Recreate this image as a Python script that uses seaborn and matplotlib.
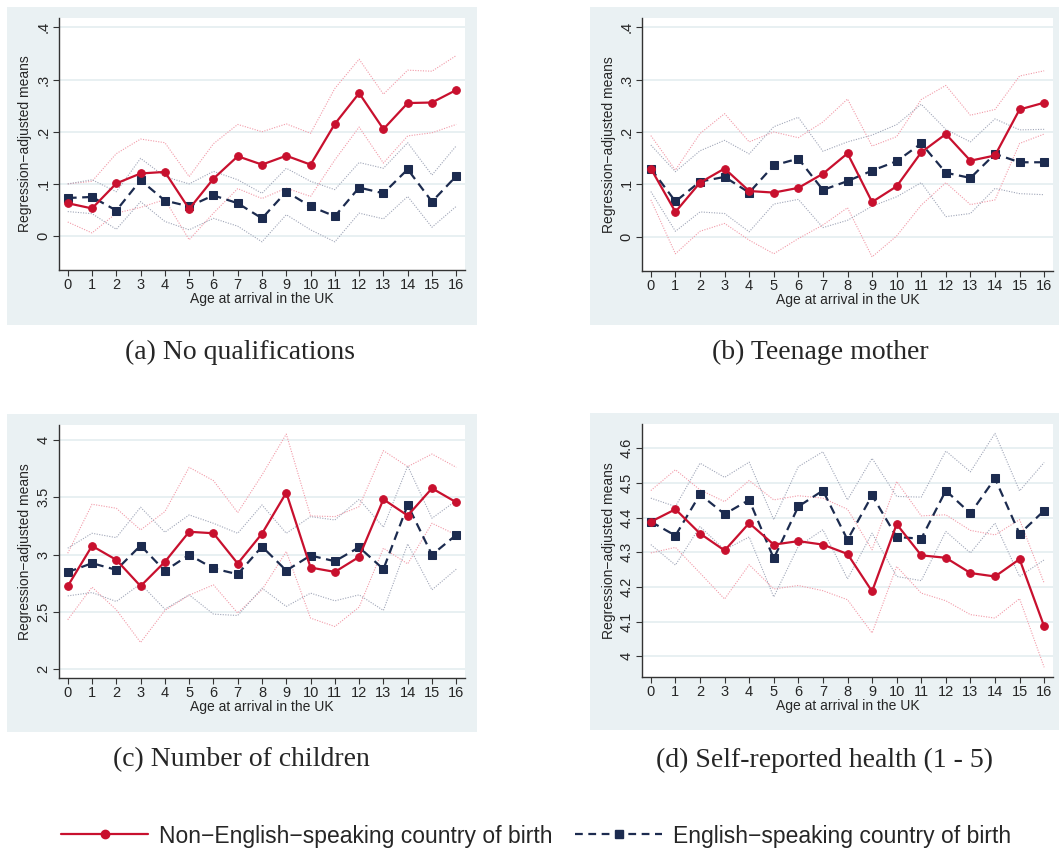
import numpy as np
import pandas as pd
import matplotlib
matplotlib.use("Agg")
import matplotlib.pyplot as plt
import seaborn as sns
from matplotlib.patches import Rectangle
from matplotlib.lines import Line2D

ages = list(range(17))
age_ticks = [str(a) for a in ages]

# (a) No qualifications
a_non_mean = [0.063, 0.053, 0.101, 0.120, 0.123, 0.052, 0.110, 0.153, 0.137, 0.154, 0.137, 0.215, 0.274, 0.205, 0.255, 0.256, 0.280]
a_non_hi = [0.100, 0.105, 0.158, 0.186, 0.179, 0.114, 0.177, 0.214, 0.200, 0.215, 0.197, 0.283, 0.339, 0.272, 0.318, 0.316, 0.346]
a_non_lo = [0.027, 0.006, 0.044, 0.055, 0.070, -0.007, 0.044, 0.091, 0.072, 0.092, 0.076, 0.146, 0.209, 0.140, 0.192, 0.198, 0.214]
a_eng_mean = [0.073, 0.075, 0.049, 0.107, 0.068, 0.057, 0.078, 0.063, 0.034, 0.085, 0.057, 0.038, 0.093, 0.082, 0.128, 0.066, 0.115]
a_eng_hi = [0.100, 0.108, 0.085, 0.149, 0.114, 0.100, 0.124, 0.108, 0.082, 0.130, 0.105, 0.089, 0.141, 0.130, 0.179, 0.117, 0.173]
a_eng_lo = [0.047, 0.043, 0.013, 0.066, 0.028, 0.012, 0.034, 0.019, -0.011, 0.041, 0.012, -0.011, 0.044, 0.033, 0.076, 0.017, 0.057]

# (b) Teenage mother
b_non_mean = [0.130, 0.047, 0.103, 0.130, 0.087, 0.084, 0.093, 0.120, 0.159, 0.066, 0.096, 0.161, 0.196, 0.145, 0.155, 0.243, 0.256]
b_non_hi = [0.193, 0.127, 0.197, 0.235, 0.181, 0.200, 0.189, 0.219, 0.263, 0.173, 0.191, 0.262, 0.289, 0.232, 0.243, 0.307, 0.317]
b_non_lo = [0.070, -0.033, 0.010, 0.025, -0.007, -0.033, -0.004, 0.022, 0.055, -0.039, 0.001, 0.060, 0.103, 0.061, 0.070, 0.178, 0.196]
b_eng_mean = [0.130, 0.067, 0.105, 0.114, 0.084, 0.136, 0.149, 0.089, 0.106, 0.126, 0.144, 0.178, 0.122, 0.112, 0.158, 0.142, 0.142]
b_eng_hi = [0.175, 0.124, 0.164, 0.184, 0.158, 0.210, 0.228, 0.163, 0.181, 0.194, 0.214, 0.253, 0.205, 0.181, 0.225, 0.204, 0.205]
b_eng_lo = [0.086, 0.010, 0.047, 0.044, 0.009, 0.062, 0.071, 0.017, 0.031, 0.058, 0.076, 0.103, 0.038, 0.044, 0.092, 0.082, 0.080]

# (c) Number of children
c_non_mean = [2.726, 3.077, 2.955, 2.726, 2.938, 3.200, 3.187, 2.923, 3.184, 3.541, 2.888, 2.850, 2.981, 3.483, 3.341, 3.579, 3.457]
c_non_hi = [3.013, 3.440, 3.405, 3.216, 3.376, 3.762, 3.646, 3.367, 3.695, 4.052, 3.338, 3.332, 3.419, 3.907, 3.768, 3.878, 3.762]
c_non_lo = [2.433, 2.717, 2.520, 2.235, 2.514, 2.647, 2.737, 2.491, 2.694, 3.028, 2.447, 2.374, 2.543, 3.057, 2.920, 3.274, 3.173]
c_eng_mean = [2.848, 2.926, 2.868, 3.080, 2.859, 2.999, 2.880, 2.830, 3.071, 2.862, 2.993, 2.943, 3.065, 2.874, 3.434, 2.999, 3.173]
c_eng_hi = [3.057, 3.187, 3.149, 3.414, 3.196, 3.347, 3.274, 3.187, 3.434, 3.187, 3.332, 3.303, 3.483, 3.240, 3.774, 3.318, 3.472]
c_eng_lo = [2.641, 2.670, 2.592, 2.746, 2.525, 2.650, 2.482, 2.470, 2.708, 2.549, 2.665, 2.598, 2.650, 2.514, 3.094, 2.694, 2.874]

# (d) Self-reported health
d_non_mean = [4.388, 4.424, 4.354, 4.305, 4.384, 4.322, 4.332, 4.322, 4.295, 4.187, 4.381, 4.291, 4.284, 4.240, 4.230, 4.280, 4.086]
d_non_hi = [4.478, 4.538, 4.480, 4.446, 4.507, 4.451, 4.463, 4.456, 4.424, 4.307, 4.504, 4.405, 4.408, 4.363, 4.350, 4.394, 4.211]
d_non_lo = [4.298, 4.314, 4.240, 4.165, 4.264, 4.194, 4.204, 4.189, 4.163, 4.067, 4.259, 4.182, 4.160, 4.120, 4.110, 4.166, 3.968]
d_eng_mean = [4.388, 4.348, 4.467, 4.410, 4.451, 4.282, 4.432, 4.478, 4.336, 4.464, 4.344, 4.339, 4.478, 4.412, 4.513, 4.353, 4.420]
d_eng_hi = [4.456, 4.432, 4.557, 4.516, 4.560, 4.394, 4.547, 4.590, 4.451, 4.571, 4.461, 4.459, 4.592, 4.532, 4.643, 4.477, 4.559]
d_eng_lo = [4.322, 4.263, 4.374, 4.307, 4.344, 4.171, 4.317, 4.365, 4.223, 4.355, 4.230, 4.218, 4.360, 4.298, 4.384, 4.230, 4.278]

captions = ["(a) No qualifications", "(b) Teenage mother", "(c) Number of children", "(d) Self-reported health (1 - 5)"]
ytick_vals = [[0, 0.1, 0.2, 0.3, 0.4], [0, 0.1, 0.2, 0.3, 0.4], [2, 2.5, 3, 3.5, 4], [4, 4.1, 4.2, 4.3, 4.4, 4.5, 4.6]]
ytick_labels = [["0", ".1", ".2", ".3", ".4"], ["0", ".1", ".2", ".3", ".4"],
                ["2", "2.5", "3", "3.5", "4"], ["4", "4.1", "4.2", "4.3", "4.4", "4.5", "4.6"]]
ylims = [(-0.065, 0.418), (-0.066, 0.418), (1.925, 4.131), (3.94, 4.67)]
legend_labels = ["Non\u2212English\u2212speaking country of birth", "English\u2212speaking country of birth"]

panels = [
    (a_non_mean, a_non_hi, a_non_lo, a_eng_mean, a_eng_hi, a_eng_lo),
    (b_non_mean, b_non_hi, b_non_lo, b_eng_mean, b_eng_hi, b_eng_lo),
    (c_non_mean, c_non_hi, c_non_lo, c_eng_mean, c_eng_hi, c_eng_lo),
    (d_non_mean, d_non_hi, d_non_lo, d_eng_mean, d_eng_hi, d_eng_lo),
]

sns.set_theme(style="white")
plt.rcParams['font.family'] = ['Liberation Sans', 'DejaVu Sans']

RED = "#C8102E"
NAVY = "#1C2B4F"
RED_CI = "#F29AA8"
NAVY_CI = "#A0A6B8"
BG = "#EAF1F3"
GRID = "#E6EFF1"

W, H = 1059, 852
fig = plt.figure(figsize=(W / 100, H / 100), dpi=100)

outer = [(7, 7, 477, 325), (590, 7, 1059, 325), (7, 414, 477, 732), (590, 413, 1059, 730)]
inner = [(59, 18, 465, 270), (642, 18, 1053, 271), (59, 425, 465, 678), (642, 424, 1053, 677)]
cap_pos = [(240, 352), (820, 352), (241, 760), (824, 760)]

for k in range(4):
    ox0, oy0, ox1, oy1 = outer[k]
    fig.patches.append(Rectangle((ox0 / W, 1 - oy1 / H), (ox1 - ox0) / W, (oy1 - oy0) / H,
                                 transform=fig.transFigure, facecolor=BG, edgecolor="none", zorder=-10))
    ix0, iy0, ix1, iy1 = inner[k]
    ax = fig.add_axes([ix0 / W, 1 - iy1 / H, (ix1 - ix0) / W, (iy1 - iy0) / H])
    ax.set_zorder(1)
    ax.set_facecolor("white")
    nm, nh, nl, em, eh, el = panels[k]
    df = pd.DataFrame({"age": ages, "nm": nm, "nh": nh, "nl": nl, "em": em, "eh": eh, "el": el})
    for col, c in [("nh", RED_CI), ("nl", RED_CI)]:
        sns.lineplot(data=df, x="age", y=col, ax=ax, color=c, lw=0.8, linestyle=(0, (1, 1.3)), zorder=2)
    for col, c in [("eh", NAVY_CI), ("el", NAVY_CI)]:
        sns.lineplot(data=df, x="age", y=col, ax=ax, color=c, lw=0.8, linestyle=(0, (1, 1.3)), zorder=2)
    sns.lineplot(data=df, x="age", y="em", ax=ax, color=NAVY, lw=1.6, linestyle=(0, (4, 2.5)),
                 marker="s", markersize=5.5, markeredgecolor=NAVY, zorder=3)
    sns.lineplot(data=df, x="age", y="nm", ax=ax, color=RED, lw=1.6, marker="o",
                 markersize=5.5, markeredgecolor=RED, zorder=4)
    ax.set_xlim(-0.36, 16.36)
    ax.set_ylim(*ylims[k])
    ax.set_xticks(ages)
    ax.set_xticklabels(age_ticks, fontsize=10.5)
    ax.set_yticks(ytick_vals[k])
    ax.set_yticklabels(ytick_labels[k], fontsize=10.5, rotation=90, va="center")
    ax.yaxis.grid(True, color=GRID, lw=1.3)
    ax.set_axisbelow(True)
    ax.set_xlabel("Age at arrival in the UK", fontsize=10, labelpad=0)
    ax.set_ylabel("Regression\u2212adjusted means", fontsize=10, labelpad=3)
    for s in ["top", "right"]:
        ax.spines[s].set_visible(False)
    for s in ["left", "bottom"]:
        ax.spines[s].set_color("#333333")
        ax.spines[s].set_linewidth(1.0)
    ax.tick_params(axis="both", which="both", direction="out", length=4, width=0.8,
                   color="#333333", left=True, bottom=True, pad=2)
    cx, cy = cap_pos[k]
    fig.text(cx / W, 1 - cy / H, captions[k], ha="center", va="center", fontsize=20,
             family=["Liberation Serif", "DejaVu Serif"])

handles = [
    Line2D([], [], color=RED, lw=1.6, marker="o", markersize=6),
    Line2D([], [], color=NAVY, lw=1.6, linestyle=(0, (3.5, 2.5)), marker="s", markersize=6),
]
fig.legend(handles, legend_labels, loc="center", bbox_to_anchor=(536 / W, 1 - 836 / H), ncol=2,
           frameon=False, handlelength=3.8, columnspacing=1.0, handletextpad=0.45,
           prop={"family": ["Liberation Sans", "DejaVu Sans"], "size": 16.5})

fig.savefig("out.png", dpi=100, facecolor="white")
